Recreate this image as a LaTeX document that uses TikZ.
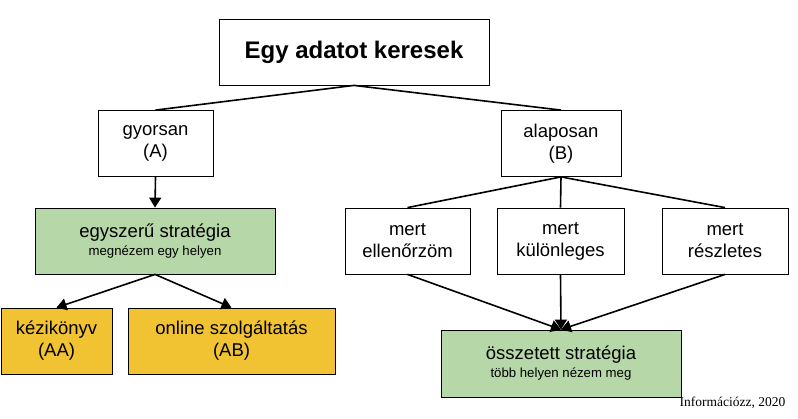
\documentclass[tikz,border=0pt]{standalone}
\usepackage{fontspec}
\setmainfont{Liberation Sans}
\newfontfamily\talpbetu{Liberation Serif}
\usetikzlibrary{arrows.meta}

\definecolor{zold}{HTML}{B6D7A8}
\definecolor{sarga}{HTML}{F1C232}

\begin{document}
\begin{tikzpicture}[x=1pt, y=-1pt, font=\fontsize{18.5}{22}\selectfont,
  doboz/.style={draw, line width=0.8pt, align=center, inner sep=0pt, minimum height=66pt}, % dobozok
  vonal/.style={line width=1.6pt}, % összekötő vonal
  nyil/.style={vonal, -{Triangle[length=10pt,width=12pt]}}] % nyíl
  \useasboundingbox (0,0) rectangle (798,418); % a kép mérete

  \node[doboz, minimum width=270pt, font=\fontsize{24}{28}\selectfont\bfseries] (kereses) at (354,52) {Egy adatot keresek};
  \node[doboz, minimum width=115pt] (gyors) at (155.5,143.5) {gyorsan\\(A)};
  \node[doboz, minimum width=120pt] (alapos) at (561,143.5) {alaposan\\(B)};

  % bal ág
  \node[doboz, fill=zold, minimum width=240pt] (egyszeru) at (155,241)
    {egyszerű stratégia\\[-4pt]{\fontsize{13.2}{15}\selectfont megnézem egy helyen}};
  \node[doboz, fill=sarga, minimum width=111pt] (kezi) at (56.5,341) {kézikönyv\\(AA)};
  \node[doboz, fill=sarga, minimum width=207pt] (online) at (231.5,341) {online szolgáltatás\\(AB)};

  % jobb ág
  \node[doboz, minimum width=125pt] (ellenorz) at (407.5,241) {mert\\ellenőrzöm};
  \node[doboz, minimum width=127pt] (kulonl) at (560.5,241) {mert\\különleges};
  \node[doboz, minimum width=126pt] (reszl) at (725,241) {mert\\részletes};
  \node[doboz, fill=zold, minimum width=240pt, minimum height=67pt] (osszetett) at (561,363.5)
    {összetett stratégia\\[-4pt]{\fontsize{13.2}{15}\selectfont több helyen nézem meg}};

  \node[font=\talpbetu\fontsize{13.5}{15}\selectfont, inner sep=0pt] (forras) at (732.5,403) {Információzz, 2020}; % forrás

  \draw[vonal] (kereses.south) -- (gyors.north);
  \draw[vonal] (kereses.south) -- (alapos.north);
  \draw[nyil] (gyors.south) -- (egyszeru.north);
  \draw[nyil] (egyszeru.south) -- (kezi.north);
  \draw[nyil] (egyszeru.south) -- (online.north);
  \foreach \m in {ellenorz, kulonl, reszl}{
    \draw[vonal] (alapos.south) -- (\m.north);
    \draw[nyil] (\m.south) -- (osszetett.north);
  }
\end{tikzpicture}
\end{document}
